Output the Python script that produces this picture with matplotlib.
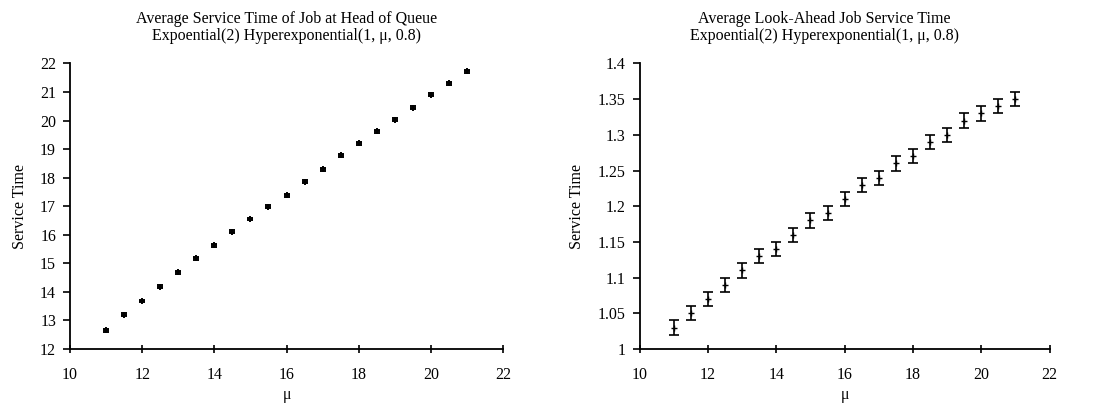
import matplotlib
matplotlib.use("Agg")
import matplotlib.pyplot as plt

plt.rcParams['font.family'] = ['Liberation Serif', 'DejaVu Serif']

mu = [11, 11.5, 12, 12.5, 13, 13.5, 14, 14.5, 15, 15.5, 16,
      16.5, 17, 17.5, 18, 18.5, 19, 19.5, 20, 20.5, 21]

head_time = [12.65, 13.2, 13.68, 14.18, 14.68, 15.18, 15.63, 16.1, 16.55, 16.98, 17.38,
             17.85, 18.3, 18.78, 19.2, 19.62, 20.03, 20.45, 20.9, 21.3, 21.72]
head_err = [0.05] * 21

look_time = [1.03, 1.05, 1.07, 1.09, 1.11, 1.13, 1.14, 1.16, 1.18, 1.19, 1.21,
             1.23, 1.24, 1.26, 1.27, 1.29, 1.30, 1.32, 1.33, 1.34, 1.35]
look_err = [0.01] * 21

fig = plt.figure(figsize=(10.99, 4.08), dpi=100)
ax1 = fig.add_axes([0.0637, 0.1446, 0.394, 0.70])
ax2 = fig.add_axes([0.582, 0.1446, 0.373, 0.70])


def style(ax):
    ax.spines['top'].set_visible(False)
    ax.spines['right'].set_visible(False)
    ax.spines['left'].set_linewidth(1.3)
    ax.spines['bottom'].set_linewidth(1.3)
    ax.tick_params(axis='y', direction='out', length=5, width=1.2, labelsize=11.5, pad=5)
    ax.tick_params(axis='x', direction='inout', length=6, width=1.2, labelsize=11.5, pad=10)
    ax.set_xlim(10, 22)
    ax.set_xticks(range(10, 23, 2))
    ax.set_xlabel('μ', fontsize=11.5, labelpad=3)
    ax.set_ylabel('Service Time', fontsize=11.5, labelpad=9)


ax1.errorbar(mu, head_time, yerr=head_err, fmt='+', color='black', ms=5, mew=1.4,
             capsize=2.5, elinewidth=1.2, capthick=1.2)
style(ax1)
ax1.set_ylim(12, 22)
ax1.set_yticks(range(12, 23))
ax1.set_title('Average Service Time of Job at Head of Queue\nExpoential(2) Hyperexponential(1, μ, 0.8)',
              fontsize=11.5, linespacing=1.05, pad=17)

ax2.errorbar(mu, look_time, yerr=look_err, fmt='+', color='black', ms=4,
             capsize=3.5, elinewidth=1.2, capthick=1.2)
style(ax2)
ax2.set_ylim(1, 1.4)
ax2.set_yticks([1, 1.05, 1.1, 1.15, 1.2, 1.25, 1.3, 1.35, 1.4])
ax2.set_yticklabels(['1', '1.05', '1.1', '1.15', '1.2', '1.25', '1.3', '1.35', '1.4'])
ax2.set_title('Average Look-Ahead Job Service Time\nExpoential(2) Hyperexponential(1, μ, 0.8)',
              fontsize=11.5, linespacing=1.05, pad=17, x=0.45)

fig.savefig('out.png', dpi=100)
